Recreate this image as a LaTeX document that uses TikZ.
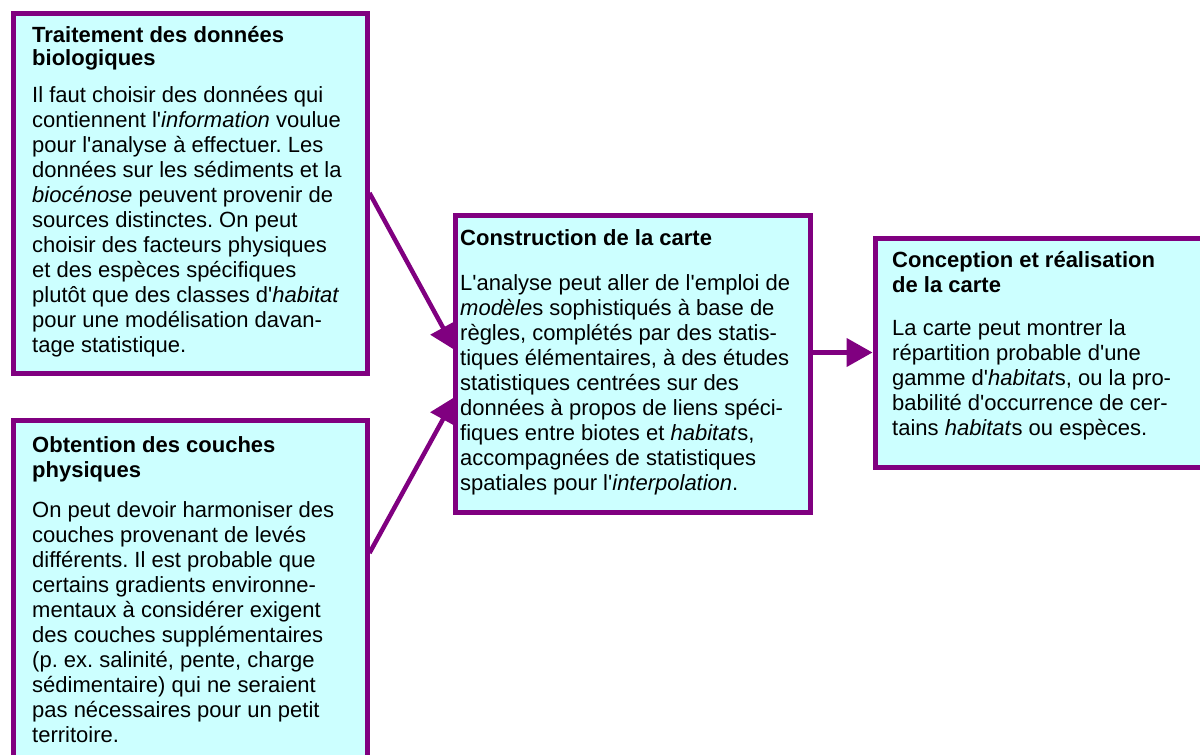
\documentclass[tikz,border=0pt]{standalone}
\usepackage{fontspec}
\setmainfont{Liberation Sans}
\usetikzlibrary{arrows.meta, positioning, calc, backgrounds}
\definecolor{cadre}{RGB}{128,0,128}
\definecolor{fond}{RGB}{204,255,255}
\newcommand{\apo}{\textquotesingle}
\frenchspacing

\begin{document}
\begin{tikzpicture}[x=1pt, y=1pt,
      box/.style={rectangle, draw=cadre, fill=fond, line width=5pt, inner sep=0pt, anchor=north west},
      txt/.style={align=left, anchor=base west, inner sep=0pt, font=\fontsize{22}{25}\selectfont},
      arr/.style={-{Triangle[length=26pt, width=28pt]}, draw=cadre, fill=cadre, line width=4.5pt}]
    \useasboundingbox (0,0) rectangle (1200,-755);
    \clip (0,0) rectangle (1200,-755);
    % boxes
    \node[box, minimum width=354, minimum height=360] (bio) at (10.5,-10.5) {};
    \node[box, minimum width=354, minimum height=360] (phys) at (10.5,-417.5) {};
    \node[box, minimum width=355, minimum height=297] (carte) at (452.5,-212.5) {};
    \node[box, minimum width=350, minimum height=229] (concept) at (872.5,-235.5) {};
    % texts (placed by the baseline of their last line)
    \node[txt] (bio-t) at (32,-352) {\textbf{Traitement des données}\\[-2pt]\textbf{biologiques}\\[12pt]
      Il faut choisir des données qui\\
      contiennent l\apo\textit{information} voulue\\
      pour l\apo analyse à effectuer. Les\\
      données sur les sédiments et la\\
      \textit{biocénose} peuvent provenir de\\
      sources distinctes. On peut\\
      choisir des facteurs physiques\\
      et des espèces spécifiques\\
      plutôt que des classes d\apo\textit{habitat}\\
      pour une modélisation davan-\\
      tage statistique.};
    \node[txt] (phys-t) at (32,-742) {\textbf{Obtention des couches}\\\textbf{physiques}\\[15pt]
      On peut devoir harmoniser des\\
      couches provenant de levés\\
      différents. Il est probable que\\
      certains gradients environne-\\
      mentaux à considérer exigent\\
      des couches supplémentaires\\
      (p. ex. salinité, pente, charge\\
      sédimentaire) qui ne seraient\\
      pas nécessaires pour un petit\\
      territoire.};
    \node[txt] (carte-t) at (460,-490) {\textbf{Construction de la carte}\\[20pt]
      L\apo analyse peut aller de l\apo emploi de\\
      \textit{modèle}s sophistiqués à base de\\
      règles, complétés par des statis-\\
      tiques élémentaires, à des études\\
      statistiques centrées sur des\\
      données à propos de liens spéci-\\
      fiques entre biotes et \textit{habitat}s,\\
      accompagnées de statistiques\\
      spatiales pour l\apo\textit{interpolation}.};
    \node[txt] (concept-t) at (892,-435) {\textbf{Conception et réalisation}\\\textbf{de la carte}\\[18pt]
      La carte peut montrer la\\
      répartition probable d\apo une\\
      gamme d\apo\textit{habitat}s, ou la pro-\\
      babilité d\apo occurrence de cer-\\
      tains \textit{habitat}s ou espèces.};
    % arrows
    \begin{scope}[on background layer]
      \fill[white] (0,0) rectangle (1200,-755);
      \draw[arr] (bio.east) -- ([shift={(3pt,13pt)}]carte.west);
      \draw[arr] ([yshift=47pt]phys.east) -- ([shift={(3pt,-33pt)}]carte.west);
      \draw[arr] (carte.east |- concept.west) -- (concept.west);
    \end{scope}
\end{tikzpicture}
\end{document}
